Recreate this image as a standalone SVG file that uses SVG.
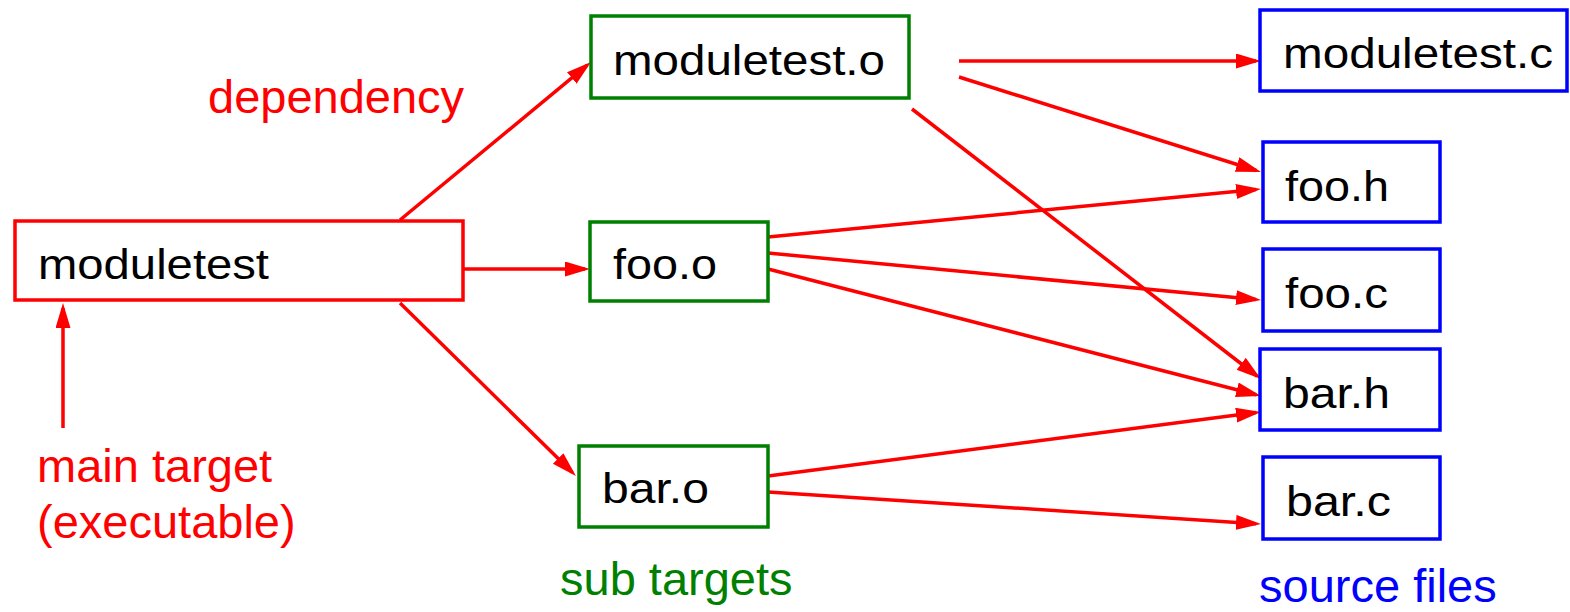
<svg xmlns="http://www.w3.org/2000/svg" width="1570" height="612" viewBox="0 0 1570 612">
<style>
.box{fill:#fff;stroke-width:3.5}
.t{font-family:"Liberation Sans",Arial,sans-serif;font-size:42px;fill:#000}
.lbl{font-family:"Liberation Sans",Arial,sans-serif;font-size:47px}
.red{stroke:#ff0000}
.grn{stroke:#008000}
.blu{stroke:#0000ff}
#connectors line{stroke:#ff0000;stroke-width:3.5;fill:none;marker-end:url(#ah)}
</style>
<defs>
<marker id="ah" markerUnits="userSpaceOnUse" markerWidth="26" markerHeight="16" refX="20" refY="7.5" orient="auto">
<path d="M0,0 L25,7.5 L0,15 Z" fill="#ff0000"/>
</marker>
</defs>
<rect width="1570" height="612" fill="#fff"/>
<g id="connectors">
<line x1="400" y1="220" x2="587.2" y2="65.2"/>
<line x1="463" y1="269" x2="585" y2="269"/>
<line x1="400" y1="303" x2="572.4" y2="472.5"/>
<line x1="63" y1="428" x2="63" y2="308"/>
<line x1="959" y1="61" x2="1256" y2="61"/>
<line x1="959" y1="77" x2="1256.2" y2="170.5"/>
<line x1="912" y1="109" x2="1257" y2="376"/>
<line x1="768" y1="237" x2="1256" y2="189.5"/>
<line x1="768" y1="253" x2="1256" y2="299.5"/>
<line x1="768" y1="269" x2="1256.2" y2="394.8"/>
<line x1="768" y1="476" x2="1256" y2="412.6"/>
<line x1="768" y1="492" x2="1256" y2="523.7"/>
</g>
<g id="moduletest">
<rect class="box red" x="15" y="221" width="448" height="79"/>
<text class="t" x="38" y="279" textLength="231" lengthAdjust="spacingAndGlyphs">moduletest</text>
</g>
<g id="moduletest_o">
<rect class="box grn" x="591" y="16" width="318" height="82"/>
<text class="t" x="613" y="75" textLength="272" lengthAdjust="spacingAndGlyphs">moduletest.o</text>
</g>
<g id="foo_o">
<rect class="box grn" x="590" y="222" width="178" height="79"/>
<text class="t" x="613" y="279" textLength="104" lengthAdjust="spacingAndGlyphs">foo.o</text>
</g>
<g id="bar_o">
<rect class="box grn" x="579" y="446" width="189" height="81"/>
<text class="t" x="602" y="503" textLength="107" lengthAdjust="spacingAndGlyphs">bar.o</text>
</g>
<g id="moduletest_c">
<rect class="box blu" x="1260" y="10" width="307" height="81"/>
<text class="t" x="1283" y="68" textLength="270" lengthAdjust="spacingAndGlyphs">moduletest.c</text>
</g>
<g id="foo_h">
<rect class="box blu" x="1263" y="142" width="177" height="80"/>
<text class="t" x="1285" y="201" textLength="104" lengthAdjust="spacingAndGlyphs">foo.h</text>
</g>
<g id="foo_c">
<rect class="box blu" x="1263" y="249" width="177" height="82"/>
<text class="t" x="1285" y="308" textLength="103" lengthAdjust="spacingAndGlyphs">foo.c</text>
</g>
<g id="bar_h">
<rect class="box blu" x="1260" y="349" width="180" height="81"/>
<text class="t" x="1283" y="408" textLength="107" lengthAdjust="spacingAndGlyphs">bar.h</text>
</g>
<g id="bar_c">
<rect class="box blu" x="1263" y="457" width="177" height="82"/>
<text class="t" x="1286" y="516" textLength="105" lengthAdjust="spacingAndGlyphs">bar.c</text>
</g>
<g id="labels">
<text class="lbl" x="208" y="113" fill="#ff0000">dependency</text>
<text class="lbl" x="37" y="482" fill="#ff0000">main target</text>
<text class="lbl" x="37" y="538" fill="#ff0000">(executable)</text>
<text class="lbl" x="560" y="595" fill="#008000">sub targets</text>
<text class="lbl" x="1259" y="602" fill="#0000ff">source files</text>
</g>
</svg>
